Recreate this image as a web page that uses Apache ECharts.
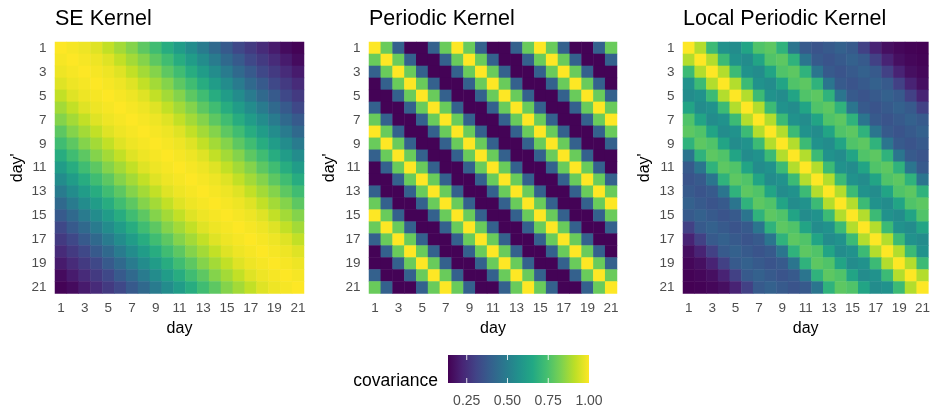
<!DOCTYPE html>
<html lang="en">
<head>
<meta charset="UTF-8" />
<title>Kernels</title>
<style>
  html, body { margin: 0; padding: 0; background: #fff; }
  #container { width: 933px; height: 406px; }
</style>
</head>
<body>
<div id="container"></div>
<script src="https://cdn.jsdelivr.net/npm/echarts@6/dist/echarts.min.js"></script>
<script>
// day labels (both axes)
var days = ['1', '2', '3', '4', '5', '6', '7', '8', '9', '10', '11',
            '12', '13', '14', '15', '16', '17', '18', '19', '20', '21'];

var seLag = [1.00, 0.99, 0.98, 0.96, 0.92, 0.88, 0.84, 0.78, 0.73, 0.67, 0.61,
             0.55, 0.49, 0.43, 0.38, 0.32, 0.28, 0.24, 0.20, 0.16, 0.14];
var periodicLag = [1.00, 0.80, 0.40, 0.14, 0.14, 0.40, 0.80, 1.00, 0.80, 0.40, 0.14,
                   0.14, 0.40, 0.80, 1.00, 0.80, 0.40, 0.14, 0.14, 0.40, 0.80];
var localPeriodicLag = [1.00, 0.90, 0.72, 0.57, 0.55, 0.64, 0.76, 0.78, 0.69, 0.47, 0.38,
                        0.36, 0.38, 0.40, 0.38, 0.30, 0.22, 0.17, 0.15, 0.14, 0.135];

var panelTitles = ['SE Kernel', 'Periodic Kernel', 'Local Periodic Kernel'];
var legendTicks = [0.25, 0.50, 0.75, 1.00];
var covMin = 0.135, covMax = 1.0;

var viridis = ['#440154', '#482475', '#414487', '#355f8d', '#2a788e', '#21918c',
               '#22a884', '#44bf70', '#7ad151', '#bddf26', '#fde725'];

var font = "'Liberation Sans', Arial, sans-serif";

// full matrix from a lag row
function buildMatrix(lag) {
    var out = [];
    for (var i = 0; i < days.length; i++) {
        for (var j = 0; j < days.length; j++) {
            out.push([j, i, lag[Math.abs(i - j)]]);
        }
    }
    return out;
}

var lags = [seLag, periodicLag, localPeriodicLag];
var grids = [
    { left: 55, top: 42, width: 249, height: 251.5 },
    { left: 369, top: 42, width: 248, height: 251.5 },
    { left: 683, top: 42, width: 247.5, height: 251.5 }
];
var yNameGap = [29, 31, 30];

var xAxes = [], yAxes = [], series = [], titles = [];
for (var k = 0; k < 3; k++) {
    titles.push({
        text: panelTitles[k], left: grids[k].left, top: 8, padding: 0,
        textStyle: { fontFamily: font, fontSize: 21.5, fontWeight: 'normal', color: '#000' }
    });
    xAxes.push({
        gridIndex: k, type: 'category', data: days,
        axisLine: { show: false }, axisTick: { show: false }, splitLine: { show: false },
        axisLabel: { interval: 1, color: '#4d4d4d', fontSize: 13.5, margin: 8, fontFamily: font },
        name: 'day', nameLocation: 'middle', nameGap: 26,
        nameTextStyle: { fontSize: 16, color: '#000', fontFamily: font }
    });
    yAxes.push({
        gridIndex: k, type: 'category', data: days, inverse: true,
        axisLine: { show: false }, axisTick: { show: false }, splitLine: { show: false },
        axisLabel: { interval: 1, color: '#4d4d4d', fontSize: 13.5, margin: 8.5, fontFamily: font },
        name: "day'", nameLocation: 'middle', nameGap: yNameGap[k],
        nameTextStyle: { fontSize: 16, color: '#000', fontFamily: font }
    });
    series.push({
        type: 'heatmap', xAxisIndex: k, yAxisIndex: k,
        data: buildMatrix(lags[k]),
        itemStyle: { borderWidth: 0 },
        emphasis: { disabled: true }
    });
}

// colour bar legend
var bar = { x: 448, y: 355, w: 141, h: 28 };
var stops = viridis.map(function (c, i) { return { offset: i / (viridis.length - 1), color: c }; });
var legendGraphic = [
    {
        type: 'rect', shape: { x: bar.x, y: bar.y, width: bar.w, height: bar.h },
        style: { fill: new echarts.graphic.LinearGradient(0, 0, 1, 0, stops) }
    },
    {
        type: 'text', x: 438, y: 381.5,
        style: { text: 'covariance', fontSize: 17.5, fontFamily: font, fill: '#000',
                 textAlign: 'right', textVerticalAlign: 'middle' }
    }
];
legendTicks.forEach(function (v) {
    var px = bar.x + (v - covMin) / (covMax - covMin) * bar.w;
    legendGraphic.push({
        type: 'text', x: px, y: 401,
        style: { text: v.toFixed(2), fontSize: 14, fontFamily: font, fill: '#4d4d4d',
                 textAlign: 'center', textVerticalAlign: 'middle' }
    });
    if (v < covMax) {
        legendGraphic.push({
            type: 'line', shape: { x1: px, y1: bar.y, x2: px, y2: bar.y + 5 },
            style: { stroke: 'rgba(255,255,255,0.85)', lineWidth: 1 }
        });
        legendGraphic.push({
            type: 'line', shape: { x1: px, y1: bar.y + bar.h - 5, x2: px, y2: bar.y + bar.h },
            style: { stroke: 'rgba(255,255,255,0.85)', lineWidth: 1 }
        });
    }
});

var myChart = echarts.init(document.getElementById('container'));
var option = {
    animation: false,
    backgroundColor: '#fff',
    textStyle: { fontFamily: font },
    title: titles,
    grid: grids,
    xAxis: xAxes,
    yAxis: yAxes,
    visualMap: {
        show: false, type: 'continuous', min: covMin, max: covMax,
        seriesIndex: [0, 1, 2],
        inRange: { color: viridis }
    },
    graphic: legendGraphic,
    series: series
};
myChart.setOption(option);
</script>
</body>
</html>
